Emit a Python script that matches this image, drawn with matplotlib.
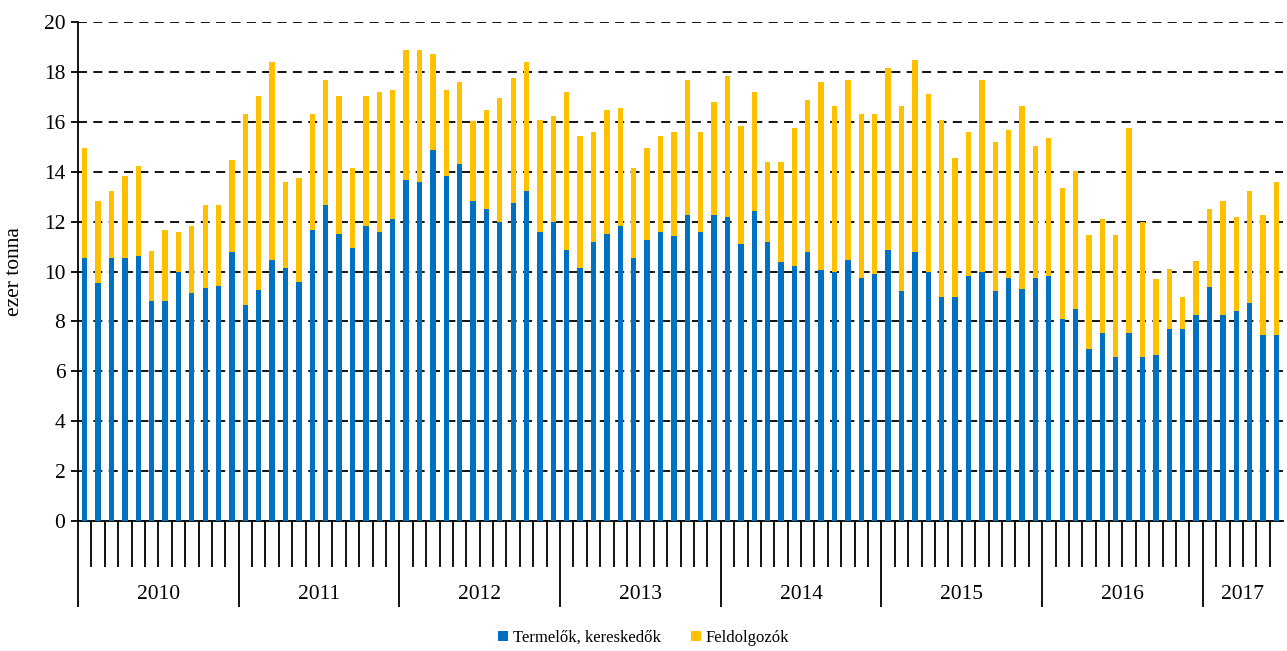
import matplotlib.pyplot as plt
import numpy as np

plt.rcParams['font.family'] = ['Liberation Serif', 'DejaVu Serif']

years = ['2010', '2011', '2012', '2013', '2014', '2015', '2016', '2017']
months_per_year = [12, 12, 12, 12, 12, 12, 12, 6]

# ezer tonna, Jan 2010 - Jun 2017
termelok = [
    10.56, 9.53, 10.56, 10.56, 10.64, 8.82, 8.82, 10.00, 9.13, 9.36, 9.44, 10.80,
    8.64, 9.28, 10.48, 10.16, 9.60, 11.68, 12.65, 11.52, 10.96, 11.84, 11.60, 12.09,
    13.69, 13.61, 14.89, 13.85, 14.33, 12.81, 12.49, 12.00, 12.73, 13.21, 11.60, 12.00,
    10.88, 10.16, 11.20, 11.52, 11.84, 10.56, 11.28, 11.60, 11.44, 12.25, 11.60, 12.25,
    12.17, 11.12, 12.41, 11.20, 10.40, 10.24, 10.80, 10.08, 10.00, 10.48, 9.76, 9.92,
    10.88, 9.21, 10.80, 10.00, 8.97, 8.97, 9.84, 10.00, 9.21, 9.76, 9.29, 9.76,
    9.84, 8.09, 8.49, 6.90, 7.53, 6.58, 7.53, 6.58, 6.66, 7.69, 7.69, 8.25,
    9.37, 8.25, 8.41, 8.73, 7.45, 7.45,
]
feldolgozok = [
    4.41, 3.28, 2.65, 3.29, 3.61, 2.00, 2.86, 1.60, 2.71, 3.29, 3.21, 3.69,
    7.68, 7.77, 7.93, 3.45, 4.17, 4.64, 5.04, 5.53, 3.21, 5.21, 5.61, 5.20,
    5.20, 5.28, 3.84, 3.44, 3.28, 3.21, 3.99, 4.97, 5.04, 5.20, 4.48, 4.24,
    6.33, 5.28, 4.40, 4.96, 4.72, 3.61, 3.69, 3.84, 4.16, 5.44, 4.00, 4.55,
    5.68, 4.72, 4.80, 3.21, 4.01, 5.52, 6.09, 7.53, 6.64, 7.21, 6.56, 6.40,
    7.29, 7.43, 7.69, 7.13, 7.11, 5.60, 5.76, 7.69, 5.99, 5.92, 7.35, 5.28,
    5.52, 5.28, 5.55, 4.56, 4.57, 4.88, 8.23, 5.42, 3.03, 2.40, 1.28, 2.16,
    3.13, 4.56, 3.77, 4.48, 4.81, 6.16,
]

blue = '#0070C0'
yellow = '#FFC000'

fig = plt.figure(figsize=(12.87, 6.51), dpi=100)
ax = fig.add_axes([0.0606, 0.1997, 0.9364, 0.7663])

x = np.arange(len(termelok))
ax.bar(x, termelok, width=0.4, color=blue, label='Termelők, kereskedők', zorder=3)
ax.bar(x, feldolgozok, width=0.4, bottom=termelok, color=yellow,
       label='Feldolgozók', zorder=3)

ax.set_xlim(-0.5, len(x) - 0.5)
ax.set_ylim(0, 20)
ax.set_yticks(np.arange(0, 21, 2))
ax.yaxis.grid(True, color='black', linestyle=(0, (5, 3.5)), linewidth=1.3, zorder=1)
ax.set_axisbelow(True)

for s in ['top', 'right']:
    ax.spines[s].set_visible(False)
ax.spines['left'].set_linewidth(1.3)
ax.spines['bottom'].set_linewidth(1.3)

# year boundaries as long ticks, month boundaries as short ticks
starts = np.cumsum([0] + months_per_year[:-1])
ax.set_xticks(starts - 0.5)
ax.set_xticks(np.arange(-0.5, len(x) - 1), minor=True)
ax.set_xticklabels([])
ax.tick_params(axis='x', which='major', length=62, width=1.3, direction='out')
ax.tick_params(axis='x', which='minor', length=33, width=1.3, direction='out')
ax.tick_params(axis='y', length=5, width=1.3, direction='out', labelsize=15.5, pad=4)

for yr, st, n in zip(years, starts, months_per_year):
    ax.text(st - 0.5 + n / 2, -0.148, yr, transform=ax.get_xaxis_transform(),
            ha='center', va='center', fontsize=15.5)

ax.set_ylabel('ezer tonna', fontsize=15.5, labelpad=14)

fig.legend(loc='lower center', bbox_to_anchor=(0.5, -0.015), ncol=2, frameon=False,
           fontsize=12, handlelength=0.6, handleheight=0.6, handletextpad=0.3,
           columnspacing=1.8)

plt.savefig('out.png', dpi=100)
